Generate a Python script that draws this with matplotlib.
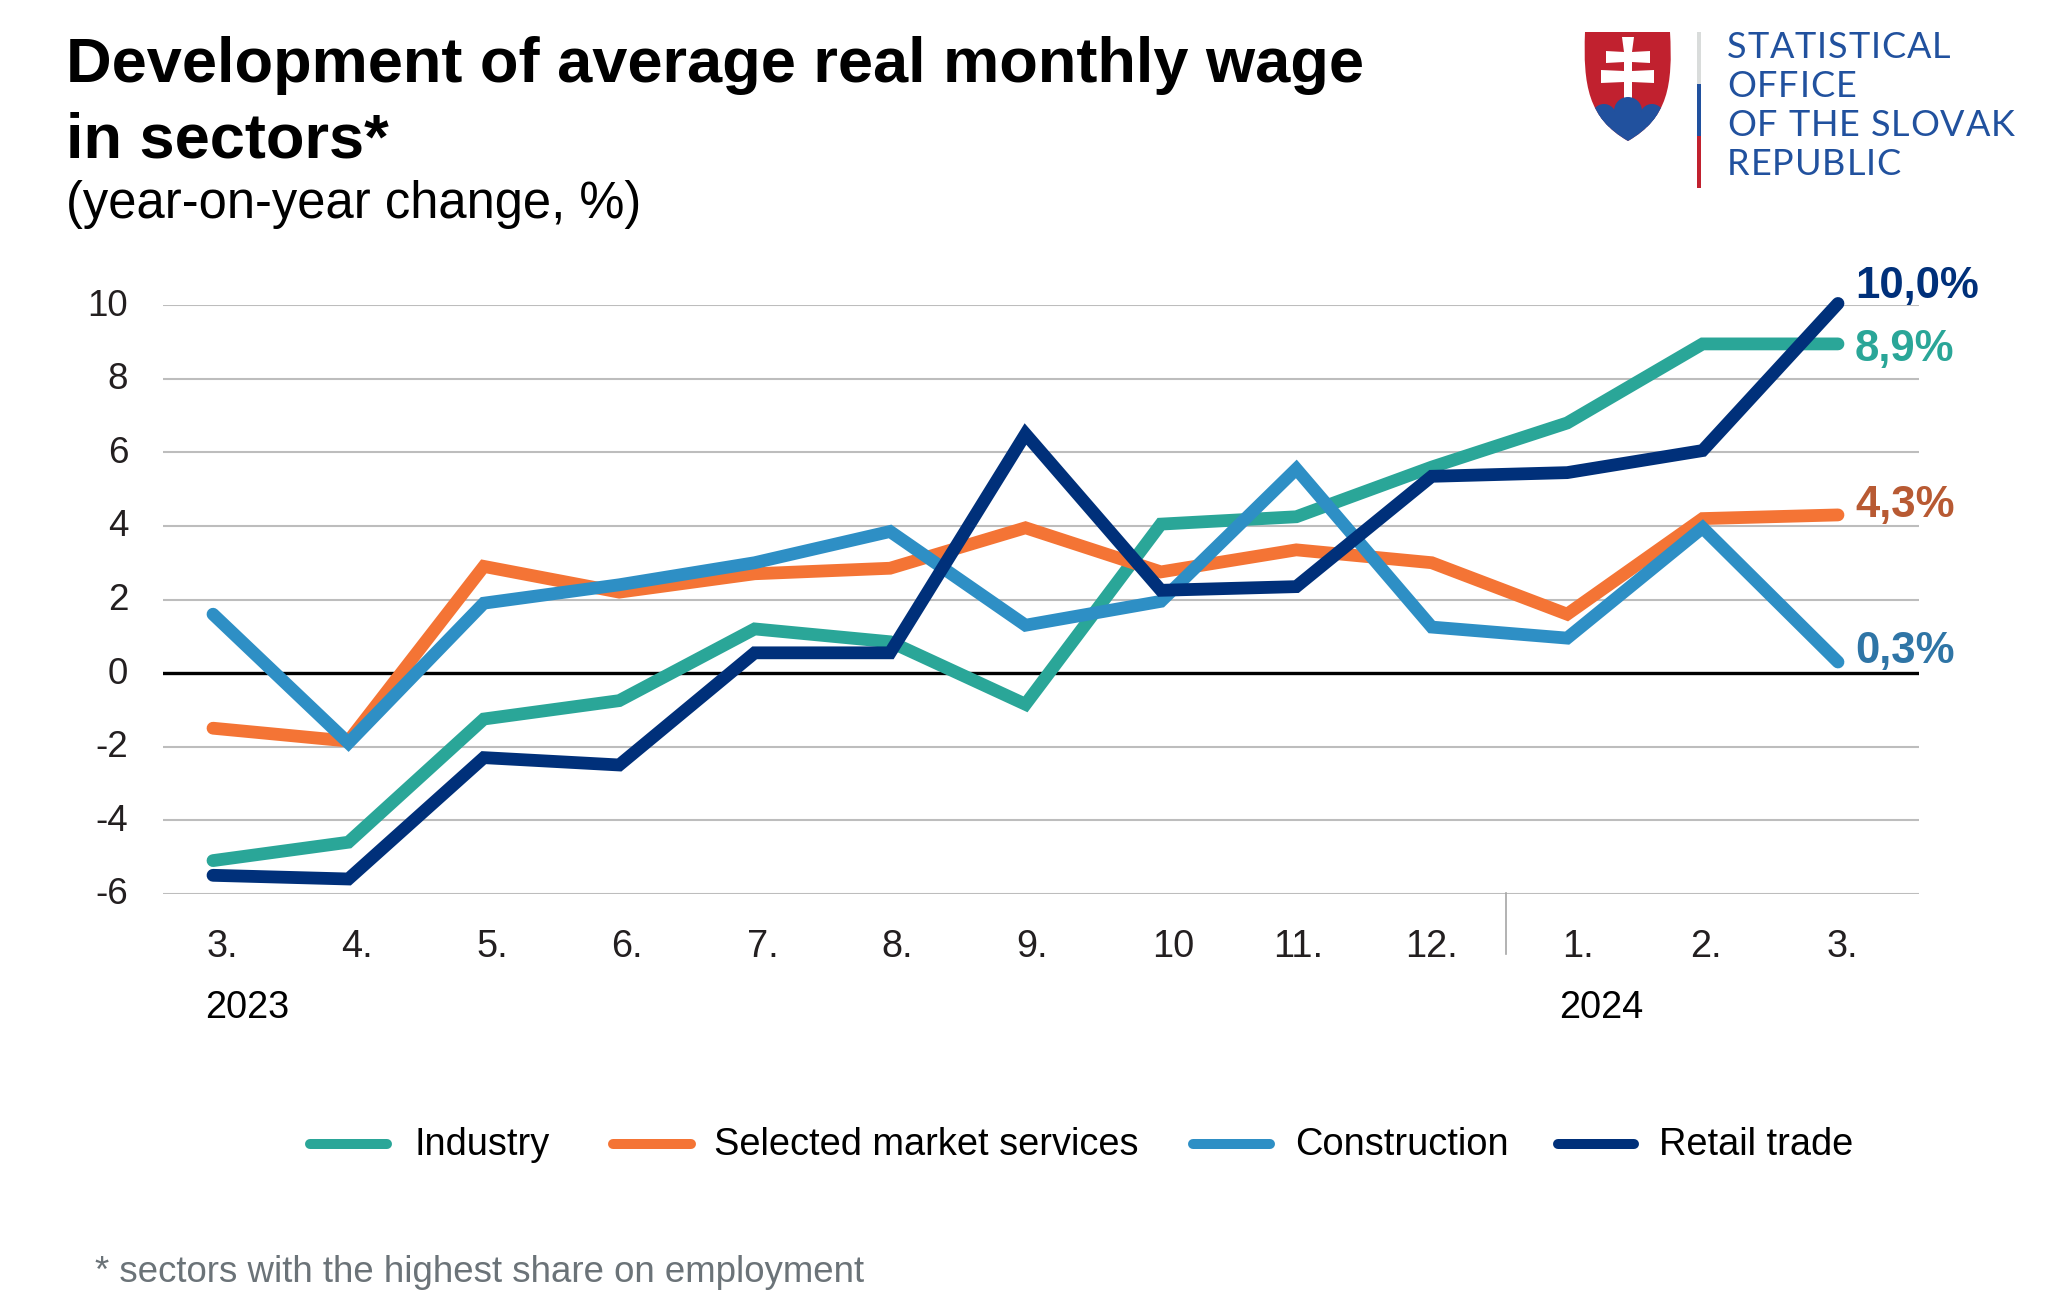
"""Real wage development by sector, year-on-year change."""
import matplotlib

matplotlib.use("Agg")
import matplotlib.pyplot as plt
from matplotlib.patches import Circle, PathPatch, Polygon, Rectangle
from matplotlib.path import Path
from matplotlib.transforms import Affine2D

plt.rcParams["font.family"] = ["Liberation Sans", "DejaVu Sans"]
plt.rcParams["axes.unicode_minus"] = False

months = ["3.", "4.", "5.", "6.", "7.", "8.", "9.", "10", "11.", "12.", "1.", "2.", "3."]
month_nudge = [9, 9, 9, 8, 8, 7, 7, 12, 2, 0, 11, 4, 5]
y_ticks = [-6, -4, -2, 0, 2, 4, 6, 8, 10]

industry = [-5.1, -4.6, -1.25, -0.75, 1.2, 0.85, -0.85, 4.05, 4.25, 5.6, 6.8, 8.95, 8.95]
services = [-1.5, -1.85, 2.9, 2.2, 2.7, 2.85, 3.95, 2.75, 3.35, 3.0, 1.6, 4.2, 4.3]
construction = [1.6, -1.9, 1.9, 2.4, 3.0, 3.85, 1.3, 1.95, 5.55, 1.25, 0.95, 3.95, 0.3]
retail = [-5.5, -5.6, -2.3, -2.5, 0.55, 0.55, 6.5, 2.25, 2.35, 5.35, 5.45, 6.05, 10.05]

series = [
    ("Industry", industry, "#2AA698", "8,9%", "#2AA698", 361),
    ("Selected market services", services, "#F47435", "4,3%", "#B85A33", 517),
    ("Construction", construction, "#2E8FC5", "0,3%", "#2F75A6", 663),
    ("Retail trade", retail, "#00307A", "10,0%", "#00307A", 298),
]
legend_pos = [(305, 392, 415), (608, 696, 714), (1188, 1275, 1295), (1553, 1639, 1659)]

W, H = 2048, 1302
fig = plt.figure(figsize=(W / 100, H / 100), dpi=100)

# plot area, placed in reference pixels
left, right, top, bottom = 163, 1919, 305.3, 893.7
ax = fig.add_axes([left / W, 1 - bottom / H, (right - left) / W, (bottom - top) / H])
step = 135.4
ax.set_xlim(-(213 - left) / step, 12 + (right - 1838) / step)
ax.set_ylim(-6, 10)
for s in ax.spines.values():
    s.set_visible(False)
ax.set_xticks([])
ax.set_yticks(y_ticks)
ax.tick_params(axis="y", length=0, pad=25, labelsize=26.5, labelcolor="#231F20")
for lab in ax.get_yticklabels():
    lab.set_transform(lab.get_transform() + Affine2D().translate(0, 3))
ax.grid(axis="y", color="#BDBDBD", lw=1.5)
ax.set_axisbelow(True)
ax.axhline(0, color="black", lw=2.4, zorder=1.5)

for name, vals, color, *_ in series:
    ax.plot(range(len(vals)), vals, color=color, lw=9.2, clip_on=False,
            solid_capstyle="round", solid_joinstyle="miter", zorder=3)

# overlay in pixel coordinates for texts, legend and logo
ov = fig.add_axes([0, 0, 1, 1], facecolor="none")
ov.set_xlim(0, W)
ov.set_ylim(H, 0)
ov.axis("off")

ov.text(66, 82, "Development of average real monthly wage", fontsize=45.45, fontweight="bold", va="baseline")
ov.text(66, 158, "in sectors*", fontsize=45.45, fontweight="bold", va="baseline")
ov.text(66, 218, "(year-on-year change, %)", fontsize=36.55, va="baseline")

for i, (label, nudge) in enumerate(zip(months, month_nudge)):
    ov.text(213 + i * step + nudge, 957, label, fontsize=27.3, ha="center", va="baseline", color="#231F20")
ov.text(205, 1018, "2023", fontsize=27.3, va="baseline")
ov.text(1559, 1018, "2024", fontsize=27.3, va="baseline")
ov.plot([1506, 1506], [893, 954], color="#A6A6A6", lw=1.2)

for (name, vals, color, end_label, end_color, end_y), (x0, x1, tx) in zip(series, legend_pos):
    ov.plot([x0 + 5, x1 - 5], [1144, 1144], color=color, lw=7.2, solid_capstyle="round")
    ov.text(tx, 1155, name, fontsize=27.35, va="baseline")
    ov.text(1855, end_y, end_label, fontsize=31.5, fontweight="bold", color=end_color, va="baseline")

ov.text(95, 1282, "* sectors with the highest share on employment", fontsize=26.35, color="#6B7378", va="baseline")

# logo
RED, BLUE = "#C1212F", "#21519E"
C4 = Path.CURVE4
shield = Path(
    [(1585, 32), (1670, 32), (1673, 85), (1668, 118), (1628, 141), (1588, 118), (1583, 85), (1585, 32)],
    [Path.MOVETO, Path.LINETO, C4, C4, C4, C4, C4, C4],
)
shield_patch = PathPatch(shield, fc=RED, ec="none")
ov.add_patch(shield_patch)
ov.add_patch(Polygon([(1622, 37), (1634, 37), (1632, 52), (1650, 51), (1650, 63), (1632, 62), (1632, 71),
                      (1654, 70), (1654, 83), (1632, 82), (1632, 100), (1624, 100), (1624, 82), (1601, 83),
                      (1601, 70), (1624, 71), (1624, 62), (1606, 63), (1606, 51), (1624, 52)],
                     fc="white", ec="none"))
for hill in [Circle((1604, 116), 12), Circle((1628, 111), 14), Circle((1652, 116), 12),
             Rectangle((1585, 114), 86, 28)]:
    hill.set(fc=BLUE, ec="none")
    ov.add_patch(hill)
    hill.set_clip_path(shield_patch)
for y0, y1, c in [(32, 84, "#D9DCDB"), (84, 136, BLUE), (136, 188, RED)]:
    ov.add_patch(Rectangle((1697, y0), 4, y1 - y0, fc=c, ec="none"))

renderer = fig.canvas.get_renderer()
for line, base in zip(["STATISTICAL", "OFFICE", "OF THE SLOVAK", "REPUBLIC"], [58, 97, 136, 175]):
    # the logo lettering is tracked out, so place it letter by letter
    for i, ch in enumerate(line):
        probe = ov.text(0, 0, line[:i] + "|", fontsize=26, family="Lato")
        bar = ov.text(0, 0, "|", fontsize=26, family="Lato")
        adv = probe.get_window_extent(renderer).width - bar.get_window_extent(renderer).width
        probe.remove()
        bar.remove()
        ov.text(1727 + adv + i * 0.9, base, ch, fontsize=26, family="Lato", color=BLUE, va="baseline")

fig.savefig("out.png", dpi=100)
